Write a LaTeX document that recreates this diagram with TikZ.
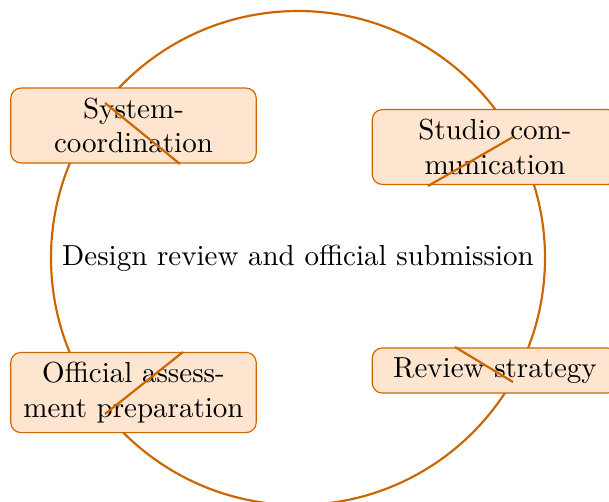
\documentclass[tikz,border=0pt]{standalone}
\definecolor{ringc}{RGB}{204,102,0}
\definecolor{boxfill}{RGB}{253,229,208}
\begin{document}
\begin{tikzpicture}[x=0.34483pt,y=-0.34483pt,
  stage/.style={draw=ringc, line width=0.4pt, fill=boxfill, rounded corners=3.5pt,
    text width=78pt, align=center, inner sep=3.33pt},
  ring/.style={draw=ringc, line width=0.75pt},
  tick/.style={draw=ringc, line width=0.75pt}]
\useasboundingbox (0,0) rectangle (609,501);
\node[circle, ring, minimum size=494*0.34483pt, inner sep=0pt] (c) at (298,258) {};
\node (title) at (298,258) {Design review and official submission};
\node[stage] (n1) at (133.5,125.5) {System-\\coordination};
\node[stage] (n2) at (495,147) {Studio com-\\munication};
\node[stage] (n3) at (133.5,392.5) {Official assess-\\ment preparation};
\node[stage] (n4) at (495,370.5) {Review strategy};
\coordinate (a1) at (105,103); \coordinate (b1) at (180,164);
\coordinate (a2) at (513,137); \coordinate (b2) at (428,186);
\coordinate (a3) at (183,352); \coordinate (b3) at (105,414);
\coordinate (a4) at (455,347); \coordinate (b4) at (513,382);
\draw[tick] (a1) -- (b1);
\draw[tick] (a2) -- (b2);
\draw[tick] (a3) -- (b3);
\draw[tick] (a4) -- (b4);
\end{tikzpicture}
\end{document}
